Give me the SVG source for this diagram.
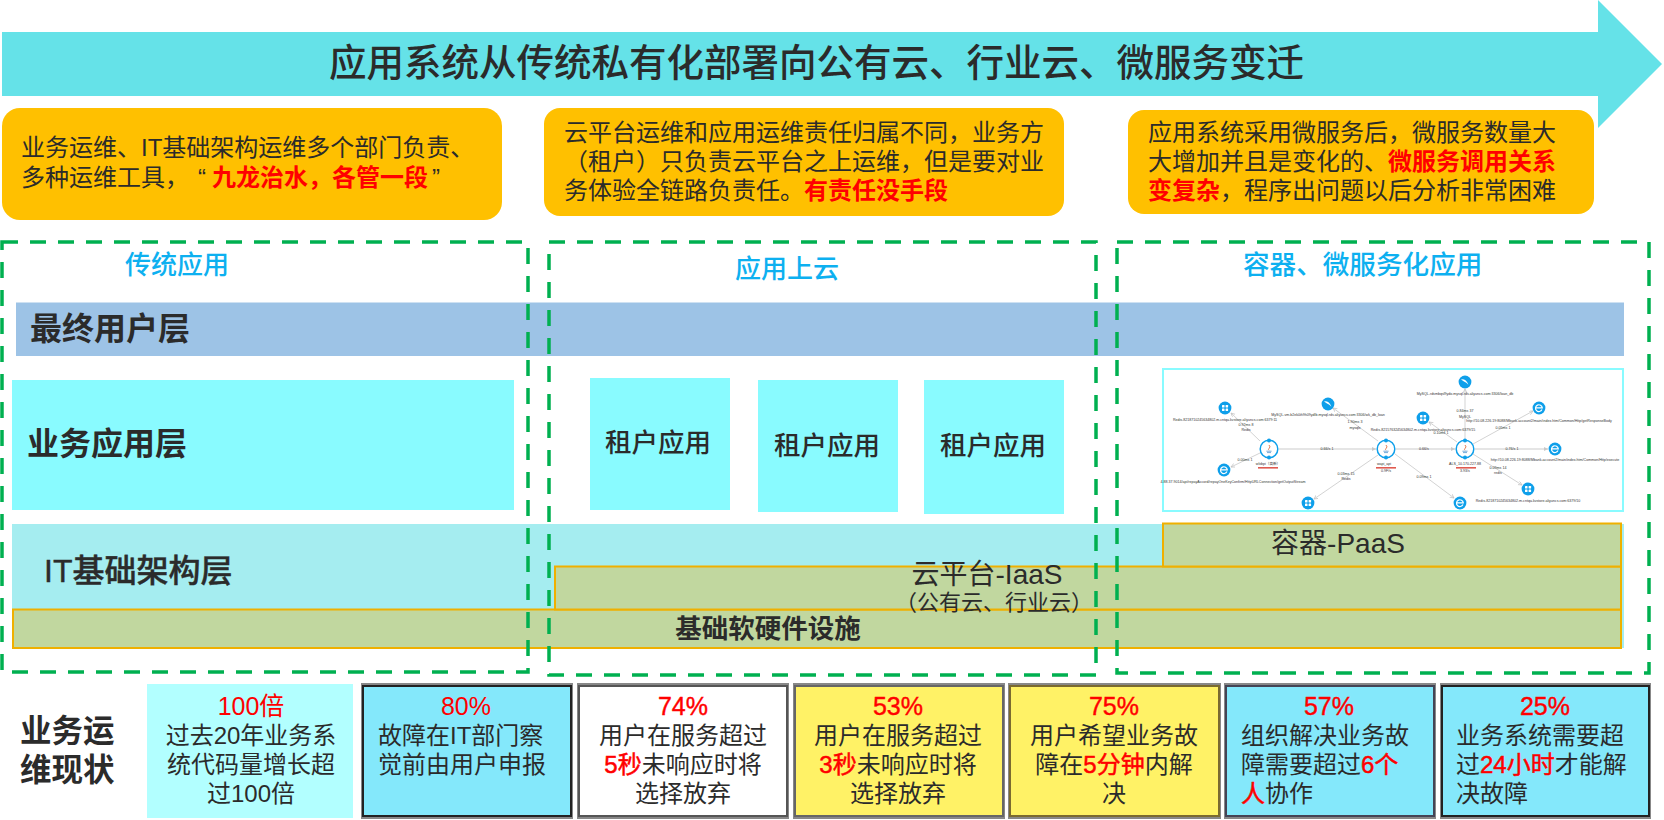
<svg xmlns="http://www.w3.org/2000/svg" xmlns:xlink="http://www.w3.org/1999/xlink" width="1664" height="820" viewBox="0 0 1664 820">
<style>
text{font-family:"Liberation Sans","Noto Sans CJK SC",sans-serif;fill:#2b2b2b}
.t24{font-size:24px}
.red{fill:#ff0000;font-weight:700}
.sred{fill:#ff0000;stroke:#ff0000;stroke-width:.5}
.pct{fill:#ff0000;font-size:25px;text-anchor:middle}
.pctb{stroke:#ff0000;stroke-width:.4}
.mid{text-anchor:middle}
.hdr{font-size:26px;fill:#0db0f0;font-weight:500}
.layer{font-size:32px;font-weight:700}
.tenant{font-size:26.5px;font-weight:500;text-anchor:middle}
.call{fill:#ffc000}
.dash{fill:none;stroke:#00b050;stroke-width:3.5;stroke-dasharray:16 12}
.cyan{fill:#89fbff}
.plat{fill:#c1d79f;stroke:#efb000;stroke-width:2}
.shadow{fill:none;stroke-width:2;stroke:#888}
.tiny{font-size:3.6px;text-anchor:middle;fill:#333}
.edge{stroke:#c8c8c8;stroke-width:.8;fill:none;marker-end:url(#ah)}
.edge2{stroke:#dcdcdc;stroke-width:1.6;fill:none;marker-end:url(#ah2)}
.ic{fill:#0e9fea}
</style>
<defs>
<marker id="ah" markerUnits="userSpaceOnUse" markerWidth="5" markerHeight="5" refX="4" refY="2" orient="auto"><path d="M0 0L4 2L0 4" fill="none" stroke="#c0c0c0" stroke-width=".7"/></marker>
<marker id="ah2" markerUnits="userSpaceOnUse" markerWidth="5" markerHeight="5" refX="4" refY="2" orient="auto"><path d="M0 0L4 2L0 4Z" fill="#c8c8c8"/></marker>
<g id="icon-redis"><circle class="ic" r="6.4"/><rect x="-3" y="-3" width="2.5" height="2.5" rx=".5" fill="#fff"/><rect x=".6" y="-3" width="2.5" height="2.5" rx=".5" fill="#fff"/><rect x="-3" y=".6" width="2.5" height="2.5" rx=".5" fill="#fff"/><rect x=".6" y=".6" width="2.5" height="2.5" rx=".5" fill="#fff"/></g>
<g id="icon-e"><circle class="ic" r="6.4"/><path d="M3 1.6A3.4 3.4 0 1 1 3.3 -.2H-3.2" fill="none" stroke="#fff" stroke-width="1.2"/></g>
<g id="icon-mysql"><circle class="ic" r="6.4"/><path d="M-4 -2.6Q1 -3.4 3.4 2.8Q1.4 .4 -1 -.6Z" fill="#fff"/></g>
<g id="icon-java"><circle r="8.8" fill="#fff" stroke="#0e9fea" stroke-width="1.5"/><circle cy="-8.6" r="2" class="ic"/><circle cy="8.6" r="2" class="ic"/><path d="M0 -4Q2 -2 0 -.5Q-1 .5 0 1.2" fill="none" stroke="#e06a3a" stroke-width=".9"/><path d="M-2.6 2.2H2.6M-2 3.6H2" stroke="#3a87c8" stroke-width=".7"/></g>
</defs>
<rect width="1664" height="820" fill="#fff"/>

<g id="arrow-banner">
<polygon points="2,32 1598,32 1598,0 1662,64 1598,128 1598,96 2,96" fill="#65e2e8"/>
<text x="329" y="76" font-size="37.5" font-weight="500">应用系统从传统私有化部署向公有云、行业云、微服务变迁</text>
</g>

<g id="callout-1">
<rect class="call" x="2" y="108" width="500" height="112" rx="18"/>
<text class="t24" x="21" y="156">业务运维、IT基础架构运维多个部门负责、</text>
<text class="t24" x="21" y="186">多种运维工具，<tspan x="198">“</tspan><tspan class="red" x="212">九龙治水，各管一段</tspan><tspan x="432">”</tspan></text>
</g>
<g id="callout-2">
<rect class="call" x="544" y="108" width="520" height="108" rx="16"/>
<text class="t24" x="564" y="141">云平台运维和应用运维责任归属不同，业务方</text>
<text class="t24" x="564" y="170">（租户）只负责云平台之上运维，但是要对业</text>
<text class="t24" x="564" y="199">务体验全链路负责任。<tspan class="red" x="804">有责任没手段</tspan></text>
</g>
<g id="callout-3">
<rect class="call" x="1128" y="110" width="466" height="104" rx="16"/>
<text class="t24" x="1148" y="141">应用系统采用微服务后，微服务数量大</text>
<text class="t24" x="1148" y="170">大增加并且是变化的、<tspan class="red" x="1388">微服务调用关系</tspan></text>
<text class="t24" x="1148" y="199"><tspan class="red">变复杂</tspan>，程序出问题以后分析非常困难</text>
</g>

<g id="layer-user"><rect x="16" y="302.500" width="1608" height="53.500" fill="#9dc3e6"/><text class="layer" x="30" y="340">最终用户层</text></g>
<g id="layer-app"><rect class="cyan" x="12" y="380" width="502" height="130"/><text class="layer" x="27" y="455">业务应用层</text></g>
<g id="tenant-1"><rect class="cyan" x="590" y="378" width="140" height="132"/><text class="tenant" x="658" y="452">租户应用</text></g>
<g id="tenant-2"><rect class="cyan" x="758" y="380" width="140" height="132"/><text class="tenant" x="827" y="455">租户应用</text></g>
<g id="tenant-3"><rect class="cyan" x="924" y="380" width="140" height="134"/><text class="tenant" x="993" y="455">租户应用</text></g>

<g id="layer-it"><rect x="12" y="524" width="1612" height="124" fill="#a5edf0"/><text class="layer" x="44" y="582" style="font-weight:500;stroke:#2b2b2b;stroke-width:.4">IT基础架构层</text></g>
<g id="platform-hw"><rect class="plat" x="13" y="609.500" width="1608" height="38.500"/></g>
<g id="platform-iaas"><rect class="plat" x="555" y="566.500" width="1066" height="43"/></g>
<g id="platform-paas"><rect class="plat" x="1163" y="523.500" width="458" height="43"/><text class="mid" x="1338" y="553" font-size="28">容器-PaaS</text></g>
<text class="mid" x="768" y="638" font-size="26.5" font-weight="700">基础软硬件设施</text>
<text class="mid" x="987" y="584" font-size="28">云平台-IaaS</text>
<text class="mid" x="994" y="610" font-size="22">（公有云、行业云）</text>

<g id="screenshot"><rect x="1163" y="369" width="460" height="142" fill="#fff" stroke="#89fbff" stroke-width="2"/></g>
<g id="mini-connectors">
<path class="edge" d="M1260 441L1231 413"/>
<path class="edge" d="M1260 453L1231 467"/>
<path class="edge2" d="M1279 449L1376 449"/>
<path class="edge" d="M1378 441L1333 408"/>
<path class="edge" d="M1378 455L1314 499"/>
<path class="edge2" d="M1396 449L1455 449"/>
<path class="edge" d="M1395 454L1454 498"/>
<path class="edge" d="M1465 439L1465 389"/>
<path class="edge" d="M1457 442L1429 422"/>
<path class="edge" d="M1473 444L1533 411"/>
<path class="edge2" d="M1475 449L1548 449"/>
<path class="edge" d="M1473 454L1522 485"/>
</g>
<g id="mini-n1"><use href="#icon-java" x="1269" y="449"/><text class="tiny" x="1268" y="465">wlxbpi（高新）</text><rect x="1258" y="467" width="20" height="1.6" fill="#e05a50"/></g>
<g id="mini-n2"><use href="#icon-java" x="1386" y="449"/><text class="tiny" x="1384" y="465">wapi_api</text><rect x="1376" y="467" width="20" height="1.6" fill="#e05a50"/><text class="tiny" x="1386" y="472">0.9F/s</text></g>
<g id="mini-n3"><use href="#icon-java" x="1465" y="449"/><text class="tiny" x="1465" y="465">ALS_10.170.227.88</text><rect x="1456" y="467" width="20" height="1.6" fill="#e05a50"/><text class="tiny" x="1465" y="472">3.93/s</text></g>
<g id="mini-redis-a"><use href="#icon-redis" x="1225" y="408"/><text class="tiny" x="1225" y="421">Redis-8218710245634802.m.cntqa.kvstore.aliyuncs.com:6379:11</text></g>
<g id="mini-e-a"><use href="#icon-e" x="1224" y="470"/><text class="tiny" x="1233" y="483">4.88.37.9014/api/repayAccord/repayOneKeyConfirm/HttpURLConnection/getOutputStream</text></g>
<g id="mini-mysql-a"><use href="#icon-mysql" x="1328" y="404"/><text class="tiny" x="1328" y="416">MySQL-vm.b2ek0ih9h09ydlb.mysql.rds.aliyuncs.com:3306/wk_db_loan</text></g>
<g id="mini-redis-b"><use href="#icon-redis" x="1308" y="503"/></g>
<g id="mini-mysql-b"><use href="#icon-mysql" x="1465" y="382"/><text class="tiny" x="1465" y="395">MySQL-rdsmbqsl9ydo.mysql.rds.aliyuncs.com:3306/loan_db</text></g>
<g id="mini-e-b"><use href="#icon-e" x="1539" y="408"/><text class="tiny" x="1539" y="422">http://10.08.226.19:8088/Mbank-account2/main/index.htm/Common/Http/getResponseBody</text></g>
<g id="mini-e-c"><use href="#icon-e" x="1555" y="449"/><text class="tiny" x="1555" y="461">http://10.08.226.19:8088/Mbank-account2/main/index.htm/Common/Http/execute</text></g>
<g id="mini-redis-c"><use href="#icon-redis" x="1423" y="418"/><text class="tiny" x="1423" y="431">Redis-8215763245634802.m.cntqa.kvstore.aliyuncs.com:6379/15</text></g>
<g id="mini-redis-d"><use href="#icon-redis" x="1528" y="489"/><text class="tiny" x="1528" y="502">Redis-8218710245634802.m.cntqa.kvstore.aliyuncs.com:6379/10</text></g>
<g id="mini-e-d"><use href="#icon-e" x="1460" y="503"/></g>
<g id="mini-labels">
<text class="tiny" x="1246" y="426">0.92ms 8</text><text class="tiny" x="1246" y="431">Redis</text>
<text class="tiny" x="1245" y="461">0.00ms 1</text>
<text class="tiny" x="1327" y="450">0.66/s 1</text>
<text class="tiny" x="1346" y="475">0.03ms 15</text><text class="tiny" x="1346" y="480">Redis</text>
<text class="tiny" x="1355" y="423">1.90ms 3</text><text class="tiny" x="1355" y="429">mysqlx</text>
<text class="tiny" x="1424" y="450">0.66/s</text>
<text class="tiny" x="1512" y="450">0.76/s 1</text>
<text class="tiny" x="1465" y="412">0.84ms 37</text><text class="tiny" x="1465" y="418">MySQL</text>
<text class="tiny" x="1503" y="429">0.05ms 1</text>
<text class="tiny" x="1498" y="469">0.09ms 14</text><text class="tiny" x="1498" y="474">redis</text>
<text class="tiny" x="1424" y="478">0.09ms 1</text>
<text class="tiny" x="1441" y="434">0.10ms 1</text>
</g>

<g id="group-traditional"><rect class="dash" x="2" y="242" width="526" height="430"/><text class="hdr" x="125" y="274">传统应用</text></g>
<g id="group-cloud"><rect class="dash" x="549" y="242" width="547" height="433"/><text class="hdr" x="735" y="278">应用上云</text></g>
<g id="group-micro"><rect class="dash" x="1117" y="242" width="532" height="431"/><text class="hdr" x="1243" y="274" style="font-size:26.600px">容器、微服务化应用</text></g>

<g id="status-title"><text x="20" y="742" font-size="31.5" font-weight="700">业务运</text><text x="20" y="781" font-size="31.5" font-weight="700">维现状</text></g>

<g id="stat-0"><rect x="147" y="684" width="206" height="134" fill="#b2ffff"/>
<text class="pct" x="251" y="715">100倍</text>
<text class="t24 mid" x="251" y="744">过去20年业务系</text>
<text class="t24 mid" x="251" y="773">统代码量增长超</text>
<text class="t24 mid" x="251" y="802">过100倍</text></g>
<g id="stat-1"><rect class="shadow" x="362" y="684" width="210" height="134"/><rect x="363" y="686" width="208" height="130" fill="#84e8fb" stroke="#222" stroke-width="2"/>
<text class="pct" x="466" y="715">80%</text>
<text class="t24" x="378" y="744">故障在IT部门察</text>
<text class="t24" x="378" y="773">觉前由用户申报</text></g>
<g id="stat-2"><rect class="shadow" x="578" y="684" width="210" height="134"/><rect x="579" y="686" width="208" height="130" fill="#fff" stroke="#555" stroke-width="2"/>
<text class="pct pctb" x="683" y="715">74%</text>
<text class="t24 mid" x="683" y="744">用户在服务超过</text>
<text class="t24 mid" x="683" y="773"><tspan class="sred">5秒</tspan>未响应时将</text>
<text class="t24 mid" x="683" y="802">选择放弃</text></g>
<g id="stat-3"><rect class="shadow" x="794" y="684" width="210" height="134"/><rect x="795" y="686" width="208" height="130" fill="#fff266" stroke="#666" stroke-width="2"/>
<text class="pct pctb" x="898" y="715">53%</text>
<text class="t24 mid" x="898" y="744">用户在服务超过</text>
<text class="t24 mid" x="898" y="773"><tspan class="sred">3秒</tspan>未响应时将</text>
<text class="t24 mid" x="898" y="802">选择放弃</text></g>
<g id="stat-4"><rect class="shadow" x="1009" y="684" width="211" height="134"/><rect x="1010" y="686" width="209" height="130" fill="#fff266" stroke="#7a6a30" stroke-width="2"/>
<text class="pct pctb" x="1114" y="715">75%</text>
<text class="t24 mid" x="1114" y="744">用户希望业务故</text>
<text class="t24 mid" x="1114" y="773">障在<tspan class="sred">5分钟</tspan>内解</text>
<text class="t24 mid" x="1114" y="802">决</text></g>
<g id="stat-5"><rect class="shadow" x="1225" y="684" width="210" height="134"/><rect x="1226" y="686" width="208" height="130" fill="#84e8fb" stroke="#445" stroke-width="2"/>
<text class="pct pctb" x="1329" y="715">57%</text>
<text class="t24" x="1241" y="744">组织解决业务故</text>
<text class="t24" x="1241" y="773">障需要超过<tspan class="sred">6个</tspan></text>
<text class="t24" x="1241" y="802"><tspan class="sred">人</tspan>协作</text></g>
<g id="stat-6"><rect class="shadow" x="1441" y="684" width="209" height="134"/><rect x="1442" y="686" width="207" height="130" fill="#84e8fb" stroke="#222" stroke-width="2"/>
<text class="pct pctb" x="1545" y="715">25%</text>
<text class="t24" x="1456" y="744">业务系统需要超</text>
<text class="t24" x="1456" y="773">过<tspan class="sred">24小时</tspan>才能解</text>
<text class="t24" x="1456" y="802">决故障</text></g>
</svg>
